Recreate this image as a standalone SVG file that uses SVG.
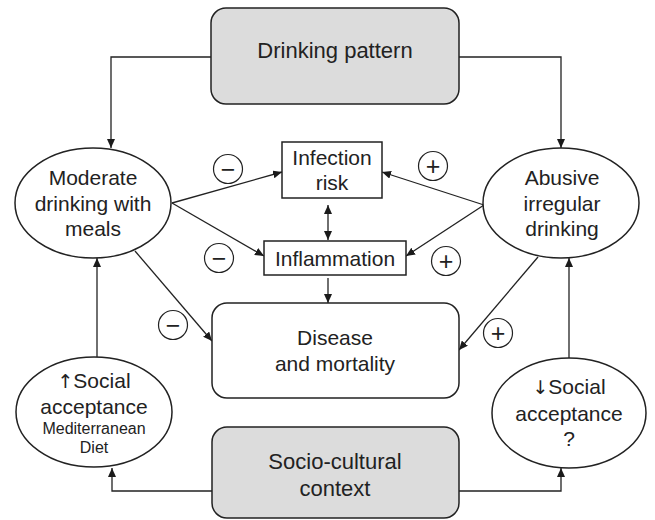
<svg xmlns="http://www.w3.org/2000/svg" width="655" height="520" viewBox="0 0 655 520">
<defs>
<marker id="ah" markerUnits="userSpaceOnUse" markerWidth="10" markerHeight="8" refX="9" refY="4" orient="auto-start-reverse">
<path d="M0,0 L9,4 L0,8 Z" fill="#1a1a1a"/>
</marker>
</defs>
<style>
.t{font-family:"Liberation Sans",Arial,sans-serif;fill:#222;text-anchor:middle}
.b{font-size:22px}
.m{font-size:21px}
.s{font-size:16px}
.ar{font-family:"DejaVu Sans",sans-serif;font-size:19px;fill:#222}
.shape{stroke:#222;stroke-width:1.5}
.gray{fill:#dcdcdc}
.white{fill:#fff}
.c{fill:none;stroke:#222;stroke-width:1.3;marker-end:url(#ah)}
.sign{fill:#fff;stroke:#222;stroke-width:1.2}
.sg{font-family:"Liberation Sans",Arial,sans-serif;font-size:25px;fill:#222;text-anchor:middle}
</style>
<rect width="655" height="520" fill="#fff"/>
<g id="connectors">
<path class="c" d="M211,57 H111 V148"/>
<path class="c" d="M459,57 H561 V148"/>
<path class="c" d="M212,491 H112 V468"/>
<path class="c" d="M459,491 H561 V468"/>
<path class="c" d="M97,357 V258"/>
<path class="c" d="M569,358 V258"/>
<path class="c" d="M172,203 L282,172"/>
<path class="c" d="M172,203 L264,256"/>
<path class="c" d="M135,251 L212,341"/>
<path class="c" d="M484,205 L382,172"/>
<path class="c" d="M484,205 L406,256"/>
<path class="c" d="M538,257 L459,350"/>
<path class="c" d="M328,205 V240" style="marker-start:url(#ah)"/>
<path class="c" d="M328,278 V303"/>
</g>
<g id="drinking-pattern">
<rect class="shape gray" x="211" y="8" width="248" height="96" rx="15"/>
<text class="t b" x="335" y="58">Drinking pattern</text>
</g>
<g id="moderate-drinking">
<ellipse class="shape white" cx="93" cy="203" rx="78" ry="55"/>
<text class="t m" x="93" y="185">Moderate</text>
<text class="t m" x="93" y="211">drinking with</text>
<text class="t m" x="93" y="236">meals</text>
</g>
<g id="abusive-drinking">
<ellipse class="shape white" cx="561" cy="203" rx="78" ry="55"/>
<text class="t m" x="562" y="185">Abusive</text>
<text class="t m" x="562" y="211">irregular</text>
<text class="t m" x="562" y="236">drinking</text>
</g>
<g id="infection-risk">
<rect class="shape white" x="282" y="142" width="100" height="56"/>
<text class="t m" x="332" y="165">Infection</text>
<text class="t m" x="332" y="190">risk</text>
</g>
<g id="inflammation">
<rect class="shape white" x="264" y="241" width="142" height="34"/>
<text class="t m" x="335" y="266">Inflammation</text>
</g>
<g id="disease-mortality">
<rect class="shape white" x="212" y="303" width="247" height="95" rx="15"/>
<text class="t m" x="335" y="345">Disease</text>
<text class="t m" x="335" y="371">and mortality</text>
</g>
<g id="socio-cultural">
<rect class="shape gray" x="212" y="427" width="247" height="91" rx="15"/>
<text class="t b" x="335" y="469">Socio-cultural</text>
<text class="t b" x="335" y="496">context</text>
</g>
<g id="social-acceptance-up">
<ellipse class="shape white" cx="94" cy="412" rx="78" ry="55"/>
<text class="t m" x="94" y="388"><tspan class="ar">↑</tspan>Social</text>
<text class="t m" x="94" y="414">acceptance</text>
<text class="t s" x="94" y="434">Mediterranean</text>
<text class="t s" x="94" y="453">Diet</text>
</g>
<g id="social-acceptance-down">
<ellipse class="shape white" cx="569" cy="413" rx="77" ry="55"/>
<text class="t m" x="569" y="394"><tspan class="ar">↓</tspan>Social</text>
<text class="t m" x="569" y="421">acceptance</text>
<text class="t m" x="569" y="446">?</text>
</g>
<g id="sign-minus-1"><circle class="sign" cx="228" cy="169" r="14.5"/><text class="sg" x="228" y="177.5">−</text></g>
<g id="sign-minus-2"><circle class="sign" cx="219" cy="258" r="14.5"/><text class="sg" x="219" y="266.5">−</text></g>
<g id="sign-minus-3"><circle class="sign" cx="173" cy="325" r="14.5"/><text class="sg" x="173" y="333.5">−</text></g>
<g id="sign-plus-1"><circle class="sign" cx="433" cy="166" r="14.5"/><text class="sg" x="433" y="174.5">+</text></g>
<g id="sign-plus-2"><circle class="sign" cx="446" cy="261" r="14.5"/><text class="sg" x="446" y="269.5">+</text></g>
<g id="sign-plus-3"><circle class="sign" cx="498" cy="333" r="14.5"/><text class="sg" x="498" y="341.5">+</text></g>
</svg>
